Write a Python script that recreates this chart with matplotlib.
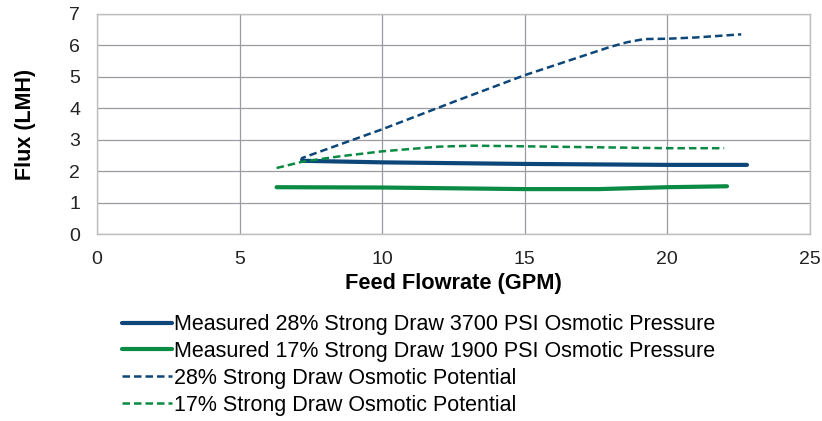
import matplotlib
matplotlib.use("Agg")
import matplotlib.pyplot as plt

plt.rcParams['font.family'] = ['Liberation Sans', 'DejaVu Sans']

# Data
x_meas28 = [7.2, 7.2, 10, 15, 20, 22.8]
y_meas28 = [2.38, 2.33, 2.28, 2.23, 2.20, 2.20]

x_meas17 = [6.3, 10, 15, 17.6, 20, 22.1]
y_meas17 = [1.49, 1.48, 1.43, 1.43, 1.49, 1.52]

x_pot28 = [7.2, 7.2, 10, 12.5, 15, 17, 18, 18.6, 19.2, 20, 21, 22.6]
y_pot28 = [2.3, 2.42, 3.33, 4.2, 5.05, 5.65, 5.95, 6.1, 6.2, 6.21, 6.25, 6.35]

x_pot17 = [6.3, 7.2, 8.5, 10, 12, 13.2, 15, 17.5, 20, 22.0]
y_pot17 = [2.10, 2.30, 2.47, 2.63, 2.78, 2.81, 2.79, 2.76, 2.73, 2.73]

labels = ["Measured 28% Strong Draw 3700 PSI Osmotic Pressure",
          "Measured 17% Strong Draw 1900 PSI Osmotic Pressure",
          "28% Strong Draw Osmotic Potential",
          "17% Strong Draw Osmotic Potential"]

x_ticks = [0, 5, 10, 15, 20, 25]
y_ticks = [0, 1, 2, 3, 4, 5, 6, 7]

blue = "#0D4678"
green = "#0A8A43"

fig = plt.figure(figsize=(8.22, 4.21), dpi=100)
ax = fig.add_axes([0.118, 0.444, 0.867, 0.523])

l1, = ax.plot(x_meas28, y_meas28, color=blue, lw=3.0, solid_capstyle='round')
l2, = ax.plot(x_meas17, y_meas17, color=green, lw=3.0, solid_capstyle='round')
l3, = ax.plot(x_pot28, y_pot28, color=blue, lw=1.8, ls=(0, (3, 1.6)))
l4, = ax.plot(x_pot17, y_pot17, color=green, lw=1.8, ls=(0, (3, 1.6)))

ax.set_xlim(0, 25)
ax.set_ylim(0, 7)
ax.set_xticks(x_ticks)
ax.set_yticks(y_ticks)
ax.grid(True, color="#9A9AA2", lw=0.9)
ax.set_axisbelow(True)
for s in ax.spines.values():
    s.set_color("#BEBEBE")
    s.set_linewidth(1.0)
ax.tick_params(length=0, labelsize=14, colors="#222222")
ax.tick_params(axis='x', pad=12)
ax.tick_params(axis='y', pad=12)
ax.set_xlabel("Feed Flowrate (GPM)", fontsize=15.7, fontweight='bold', labelpad=4)
ax.set_ylabel("Flux (LMH)", fontsize=15.5, fontweight='bold', labelpad=24)

fig.legend([l1, l2, l3, l4], labels, loc='upper left',
           bbox_to_anchor=(0.148, 0.254), frameon=False, fontsize=15.5,
           handlelength=2.35, handletextpad=0.1, labelspacing=0.27,
           borderpad=0, borderaxespad=0)

fig.savefig("out.png", dpi=100)
